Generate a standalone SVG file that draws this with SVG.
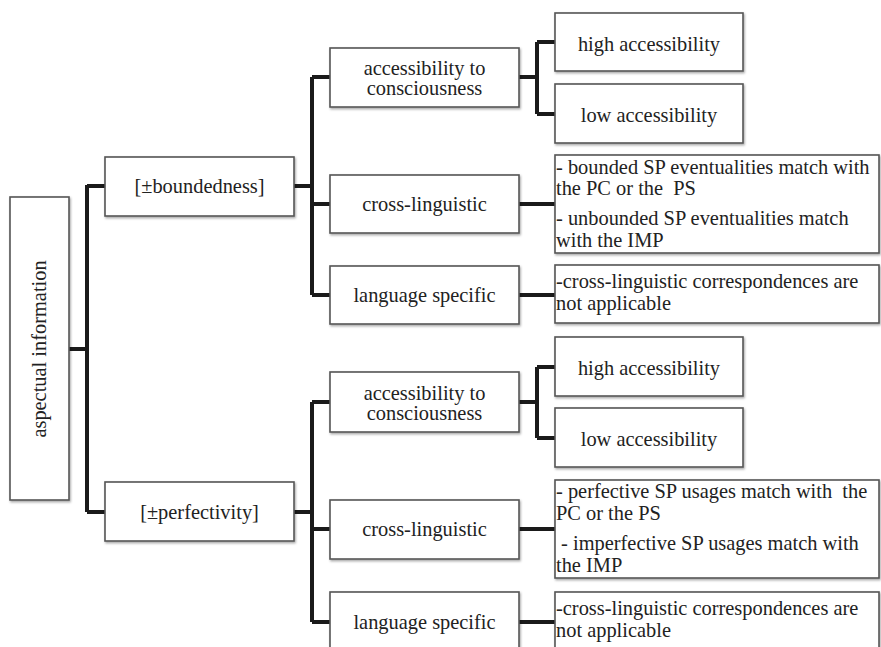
<svg xmlns="http://www.w3.org/2000/svg" width="881" height="647" viewBox="0 0 881 647">
<defs>
<filter id="sh" x="-5%" y="-5%" width="115%" height="120%">
<feDropShadow dx="1" dy="1.5" stdDeviation="1" flood-color="#000" flood-opacity="0.35"/>
</filter>
</defs>
<style>
.box{fill:#fff;stroke:#555;stroke-width:1.6;filter:url(#sh)}
text{font-family:"Liberation Serif","Times New Roman",serif;font-size:20.4px;fill:#222;white-space:pre}
.c{text-anchor:middle}
.conn{fill:none;stroke:#1a1a1a;stroke-width:4;stroke-linejoin:miter}
</style>
<rect width="881" height="647" fill="#fff"/>
<g id="connectors" class="conn">
<path d="M69 349H87M87 185V512M87 186H105M87 512H105"/>
<path d="M294 186H312M312 77V295M312 77H330M312 204H330M312 295H330"/>
<path d="M519 77H537M537 42V114M537 42H555M537 114H555"/>
<path d="M519 204H555M519 295H555"/>
<path d="M294 512H312M312 402V622M312 402H330M312 529H330M312 622H330"/>
<path d="M519 402H537M537 367V438M537 367H555M537 438H555"/>
<path d="M519 529H555M519 622H555"/>
</g>
<g id="root"><rect class="box" x="10" y="197" width="59" height="303"/><text class="c" transform="translate(46,349) rotate(-90)">aspectual information</text></g>
<g id="boundedness"><rect class="box" x="105" y="157" width="189" height="59"/><text class="c" x="199.5" y="193">[±boundedness]</text></g>
<g id="perfectivity"><rect class="box" x="105" y="482" width="189" height="59"/><text class="c" x="199.5" y="519">[±perfectivity]</text></g>
<g id="b-access"><rect class="box" x="330" y="48" width="189" height="59"/><text class="c" x="424.5" y="75">accessibility to</text><text class="c" x="424.5" y="95">consciousness</text></g>
<g id="b-cross"><rect class="box" x="330" y="175" width="189" height="58"/><text class="c" x="424.5" y="211">cross-linguistic</text></g>
<g id="b-lang"><rect class="box" x="330" y="266" width="189" height="58"/><text class="c" x="424.5" y="302">language specific</text></g>
<g id="b-high"><rect class="box" x="555" y="13" width="188" height="58"/><text class="c" x="649" y="51">high accessibility</text></g>
<g id="b-low"><rect class="box" x="555" y="84" width="188" height="59"/><text class="c" x="649" y="122">low accessibility</text></g>
<g id="b-cross-text"><rect class="box" x="555" y="155" width="324" height="98"/><text x="556" y="174">- bounded SP eventualities match with</text><text x="556" y="195">the PC or the  PS</text><text x="556" y="225">- unbounded SP eventualities match</text><text x="556" y="247">with the IMP</text></g>
<g id="b-lang-text"><rect class="box" x="555" y="265" width="324" height="58"/><text x="556" y="288">-cross-linguistic correspondences are</text><text x="556" y="310">not applicable</text></g>
<g id="p-access"><rect class="box" x="330" y="372" width="189" height="60"/><text class="c" x="424.5" y="400">accessibility to</text><text class="c" x="424.5" y="420">consciousness</text></g>
<g id="p-cross"><rect class="box" x="330" y="500" width="189" height="59"/><text class="c" x="424.5" y="536">cross-linguistic</text></g>
<g id="p-lang"><rect class="box" x="330" y="592" width="189" height="70"/><text class="c" x="424.5" y="629">language specific</text></g>
<g id="p-high"><rect class="box" x="555" y="337" width="188" height="59"/><text class="c" x="649" y="375">high accessibility</text></g>
<g id="p-low"><rect class="box" x="555" y="408" width="188" height="59"/><text class="c" x="649" y="446">low accessibility</text></g>
<g id="p-cross-text"><rect class="box" x="555" y="480" width="324" height="98"/><text x="556" y="498">- perfective SP usages match with  the</text><text x="556" y="520">PC or the PS</text><text x="556" y="550"> - imperfective SP usages match with</text><text x="556" y="572">the IMP</text></g>
<g id="p-lang-text"><rect class="box" x="555" y="592" width="324" height="70"/><text x="556" y="615">-cross-linguistic correspondences are</text><text x="556" y="637">not applicable</text></g>
</svg>
